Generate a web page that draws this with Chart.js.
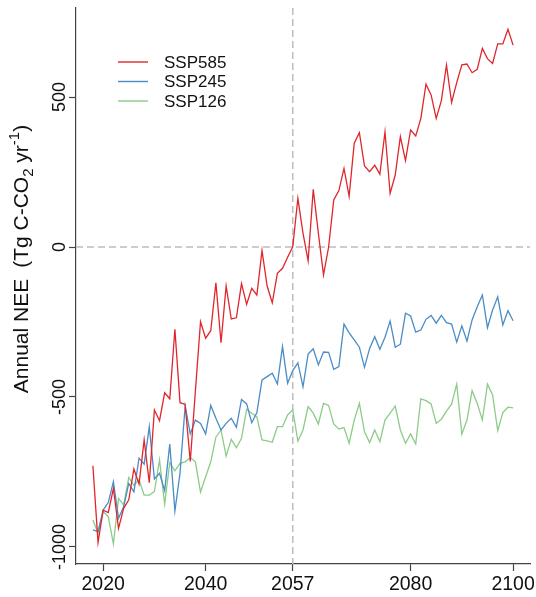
<!DOCTYPE html>
<html>
<head>
<meta charset="utf-8">
<script src="https://cdn.jsdelivr.net/npm/chart.js@4.4.1/dist/chart.umd.min.js"></script>
<style>
  html, body { margin: 0; padding: 0; background: #fff; }
  #wrap { width: 536px; height: 597px; }
</style>
</head>
<body>
<div id="wrap"><canvas id="neeChart" width="536" height="597"></canvas></div>
<script>
// years 2018 .. 2100
const years = Array.from({ length: 83 }, (_, i) => 2018 + i);

const ssp585 = [
  -729, -985, -877, -885, -805, -938, -871, -843, -740, -790,
  -643, -786, -543, -579, -486, -506, -274, -519, -525, -715,
  -480, -249, -304, -279, -119, -319, -130, -240, -236, -122,
  -191, -138, -160, -12, -130, -186, -88, -71, -34, 1,
  162, 46, -46, 192, 46, -93, 0, 157, 188, 262,
  169, 346, 381, 270, 251, 273, 243, 384, 179, 240,
  368, 288, 390, 370, 429, 543, 507, 429, 488, 606,
  482, 548, 607, 610, 581, 592, 662, 628, 612, 677,
  677, 726, 673
];

const ssp245 = [
  -943, -949, -877, -852, -782, -904, -866, -788, -816, -704,
  -724, -599, -773, -754, -812, -657, -880, -754, -530, -623,
  -577, -588, -623, -528, -571, -610, -588, -571, -601, -508,
  -523, -586, -552, -443, -432, -421, -457, -332, -454, -412,
  -386, -466, -357, -339, -393, -350, -351, -408, -399, -257,
  -286, -310, -334, -401, -338, -299, -341, -301, -247, -334,
  -324, -221, -230, -284, -277, -241, -228, -254, -228, -252,
  -257, -317, -263, -314, -243, -199, -160, -269, -210, -166,
  -260, -212, -246
];

const ssp126 = [
  -910, -954, -882, -899, -990, -838, -860, -768, -795, -775,
  -827, -827, -815, -710, -857, -719, -746, -721, -716, -702,
  -716, -817, -766, -716, -634, -610, -697, -641, -669, -638,
  -541, -554, -566, -643, -646, -651, -599, -599, -560, -543,
  -647, -610, -532, -554, -590, -521, -528, -590, -607, -602,
  -654, -577, -521, -616, -652, -610, -649, -577, -554, -530,
  -610, -654, -623, -657, -506, -512, -523, -588, -574, -547,
  -524, -457, -624, -577, -479, -521, -577, -457, -493, -612,
  -552, -534, -536
];

const xTicks = [2020, 2040, 2057, 2080, 2100];
const yTicks = [-1000, -500, 0, 500];
const refYear = 2057;
const refValue = 0;

const FONT = '"Liberation Sans", Arial, Helvetica, sans-serif';
const AXIS_COLOR = '#444';

function series(label, values, color) {
  return {
    label: label,
    data: years.map((yr, i) => ({ x: yr, y: values[i] })),
    borderColor: color,
    backgroundColor: color,
    borderWidth: 1.3,
    pointRadius: 0,
    tension: 0,
    fill: false
  };
}

// dashed reference lines at 2057 and 0
const guideLines = {
  id: 'guideLines',
  beforeDatasetsDraw(chart) {
    const { ctx, chartArea: a, scales: { x, y } } = chart;
    ctx.save();
    ctx.strokeStyle = '#BDBDBD';
    ctx.lineWidth = 1.5;
    ctx.setLineDash([7, 4]);
    const px = x.getPixelForValue(refYear);
    const py = y.getPixelForValue(refValue);
    ctx.beginPath();
    ctx.moveTo(px, a.top);
    ctx.lineTo(px, a.bottom);
    ctx.moveTo(a.left, py);
    ctx.lineTo(a.right, py);
    ctx.stroke();
    ctx.restore();
  }
};

// rotated y tick labels, y title and legend box
const extras = {
  id: 'extras',
  afterDraw(chart) {
    const { ctx, scales: { y } } = chart;
    ctx.save();
    ctx.fillStyle = '#111';

    // y tick labels, rotated like R's default
    ctx.font = '18px ' + FONT;
    ctx.textAlign = 'center';
    ctx.textBaseline = 'alphabetic';
    yTicks.forEach(v => {
      ctx.save();
      ctx.translate(65, y.getPixelForValue(v));
      ctx.rotate(-Math.PI / 2);
      ctx.fillText(String(v), 0, 0);
      ctx.restore();
    });

    // y axis title: Annual NEE  (Tg C-CO2 yr-1)
    const big = 21, small = 15;
    const parts = [
      { t: 'Annual NEE', s: big, dy: 0, gap: 11 },
      { t: '(Tg C-CO', s: big, dy: 0 },
      { t: '2', s: small, dy: 5 },
      { t: ' yr', s: big, dy: 0 },
      { t: '-1', s: small, dy: -9 },
      { t: ')', s: big, dy: 0 }
    ];
    let total = 0;
    parts.forEach(p => {
      ctx.font = p.s + 'px ' + FONT;
      p.w = ctx.measureText(p.t).width + (p.gap || 0);
      total += p.w;
    });
    ctx.save();
    ctx.translate(28, 259 + total / 2);
    ctx.rotate(-Math.PI / 2);
    ctx.textAlign = 'left';
    let cx = 0;
    parts.forEach(p => {
      ctx.font = p.s + 'px ' + FONT;
      ctx.fillText(p.t, cx, p.dy);
      cx += p.w;
    });
    ctx.restore();

    // legend
    ctx.font = '17px ' + FONT;
    ctx.textAlign = 'left';
    ctx.textBaseline = 'middle';
    chart.data.datasets.forEach((ds, i) => {
      const ly = 62 + i * 19.5;
      ctx.strokeStyle = ds.borderColor;
      ctx.lineWidth = 1.4;
      ctx.beginPath();
      ctx.moveTo(118, ly);
      ctx.lineTo(148, ly);
      ctx.stroke();
      ctx.fillStyle = '#111';
      ctx.fillText(ds.label, 164, ly + 1);
    });
    ctx.restore();
  }
};

const ctx = document.getElementById('neeChart').getContext('2d');
new Chart(ctx, {
  type: 'line',
  data: {
    datasets: [
      series('SSP585', ssp585, '#E0262B'),
      series('SSP245', ssp245, '#4A8CC6'),
      series('SSP126', ssp126, '#8DCB88')
    ]
  },
  options: {
    responsive: false,
    animation: false,
    devicePixelRatio: 1,
    layout: { padding: { top: 8, right: 6, left: 0, bottom: 0 } },
    plugins: {
      legend: { display: false },
      tooltip: { enabled: false }
    },
    scales: {
      x: {
        type: 'linear',
        min: 2014.7,
        max: 2103.3,
        afterBuildTicks: s => { s.ticks = xTicks.map(v => ({ value: v })); },
        afterFit: s => {
          s.height = 33;
          s.paddingLeft = 0;
          s.paddingRight = 0;
        },
        grid: { display: true, drawOnChartArea: false, drawTicks: true, tickLength: 7, tickColor: AXIS_COLOR, tickWidth: 1.2 },
        border: { display: true, color: AXIS_COLOR, width: 1.2 },
        ticks: {
          autoSkip: false,
          maxRotation: 0,
          padding: 4,
          color: '#111',
          font: { family: FONT, size: 19.5, lineHeight: 1 },
          callback: v => String(v)
        }
      },
      y: {
        type: 'linear',
        min: -1056.7,
        max: 796.7,
        afterBuildTicks: s => { s.ticks = yTicks.map(v => ({ value: v })); },
        afterFit: s => {
          s.width = 76;
          s.paddingTop = 0;
          s.paddingBottom = 0;
        },
        grid: { display: true, drawOnChartArea: false, drawTicks: true, tickLength: 7, tickColor: AXIS_COLOR, tickWidth: 1.2 },
        border: { display: true, color: AXIS_COLOR, width: 1.2 },
        ticks: { display: false }
      }
    }
  },
  plugins: [guideLines, extras]
});
</script>
</body>
</html>
